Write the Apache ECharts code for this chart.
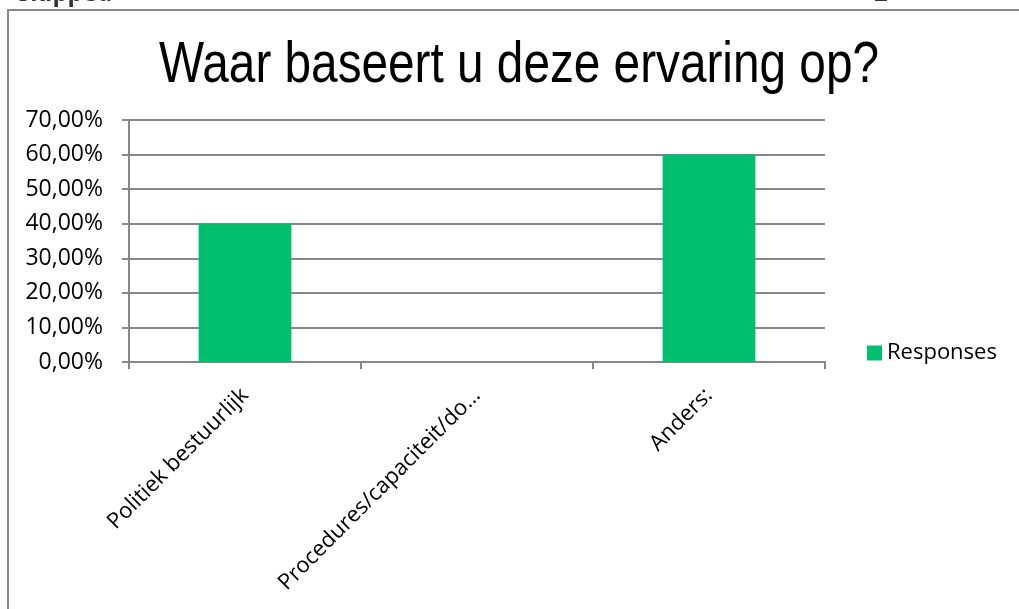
<!DOCTYPE html>
<html>
<head>
<meta charset="utf-8">
<script src="https://cdn.jsdelivr.net/npm/echarts@6/dist/echarts.min.js"></script>
<style>
  html, body { margin: 0; padding: 0; background: #fff; }
  #chart { width: 1019px; height: 609px; }
</style>
</head>
<body>
<div id="chart"></div>
<script>
// Survey question and its answer options
const titleText = 'Waar baseert u deze ervaring op?';
const categories = ['Politiek bestuurlijk', 'Procedures/capaciteit/do…', 'Anders:'];
const responses = [40, 0, 60];          // share of respondents, %
const seriesName = 'Responses';
const yTicks = { min: 0, max: 70, interval: 10 };

const fontFace = 'Open Sans, Noto Sans, sans-serif';
const gray = '#878787';
const green = '#00BF6F';

const chart = echarts.init(document.getElementById('chart'));
chart.setOption({
  animation: false,
  legend: {
    data: [seriesName],
    left: 867,
    top: 342,
    padding: 0,
    itemWidth: 15,
    itemHeight: 15,
    icon: 'rect',
    itemGap: 5,
    textStyle: { fontFamily: fontFace, fontSize: 22, color: '#000' }
  },
  grid: { left: 129, right: 194, top: 120, bottom: 247, containLabel: false },
  xAxis: {
    type: 'category',
    data: categories,
    axisLine: { lineStyle: { color: gray, width: 2 } },
    axisTick: { show: true, alignWithLabel: false, length: 7, lineStyle: { color: gray, width: 2 } },
    axisLabel: { rotate: 45, margin: 30, fontFamily: fontFace, fontSize: 22, color: '#000' }
  },
  yAxis: {
    type: 'value',
    min: yTicks.min,
    max: yTicks.max,
    interval: yTicks.interval,
    axisLine: { show: true, lineStyle: { color: gray, width: 2 } },
    axisTick: { show: true, length: 7, lineStyle: { color: gray, width: 2 } },
    splitLine: { lineStyle: { color: gray, width: 2 } },
    axisLabel: {
      margin: 26,
      fontFamily: fontFace, fontSize: 23, color: '#000',
      formatter: v => v.toFixed(2).replace('.', ',') + '%'
    }
  },
  series: [{
    name: seriesName,
    type: 'bar',
    data: responses,
    barWidth: '40%',
    itemStyle: { color: green }
  }],
  graphic: [
    { type: 'rect', shape: { x: 8, y: 10, width: 1040, height: 640 }, style: { fill: 'none', stroke: gray, lineWidth: 2 } },
    { type: 'text', x: 17, y: -6, style: { text: 'Skipped', font: 'bold 24px ' + fontFace, fill: '#333', textVerticalAlign: 'middle' } },
    { type: 'text', x: 874, y: -6, style: { text: '2', font: 'bold 24px ' + fontFace, fill: '#333', textVerticalAlign: 'middle' } },
    // chart title, narrow sans face
    {
      type: 'text', x: 519, y: 95, scaleX: 0.823,
      style: {
        text: titleText, font: '58px Liberation Sans, Arial, sans-serif', fill: '#000',
        textAlign: 'center', textVerticalAlign: 'bottom'
      }
    }
  ]
});
</script>
</body>
</html>
